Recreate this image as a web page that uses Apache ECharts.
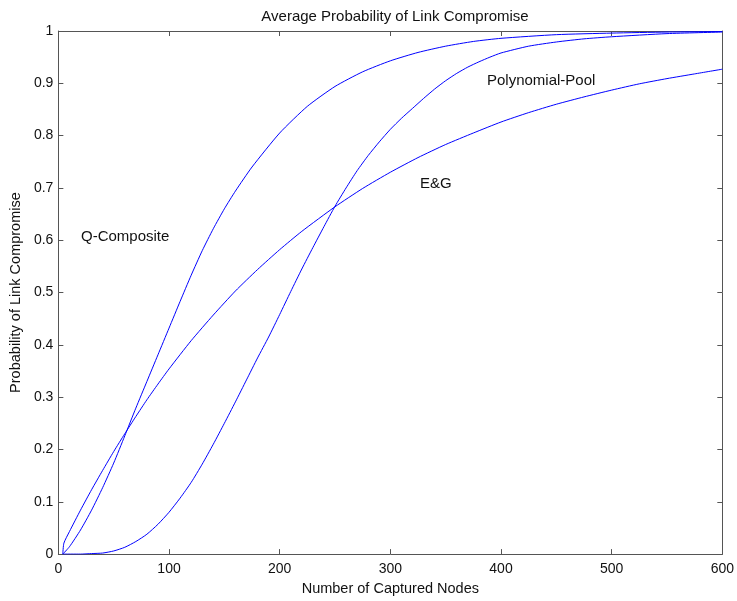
<!DOCTYPE html>
<html>
<head>
<meta charset="utf-8">
<script src="https://cdn.jsdelivr.net/npm/echarts@6/dist/echarts.min.js"></script>
<style>
html,body{margin:0;padding:0;background:#fff;}
#chart{width:737px;height:601px;}
</style>
</head>
<body>
<div id="chart"></div>
<script>
// Data
const egX = [4, 5, 10, 20, 30, 40, 50, 60, 70, 80, 90, 100, 120, 140, 160, 180, 200, 220, 250, 275, 300, 325, 350, 375, 400, 425, 450, 475, 500, 525, 550, 575, 600];
const egY = [0, 0.021, 0.043, 0.084, 0.123, 0.160, 0.196, 0.230, 0.263, 0.295, 0.325, 0.354, 0.408, 0.457, 0.503, 0.544, 0.582, 0.617, 0.664, 0.699, 0.730, 0.758, 0.783, 0.805, 0.826, 0.844, 0.860, 0.874, 0.887, 0.899, 0.909, 0.918, 0.927];

const qX = [4, 10, 20, 30, 40, 50, 60, 70, 80, 90, 100, 110, 120, 130, 140, 150, 160, 175, 200, 225, 250, 275, 300, 325, 350, 375, 400, 450, 500, 550, 600];
const qY = [0, 0.014, 0.046, 0.084, 0.127, 0.174, 0.226, 0.279, 0.330, 0.381, 0.432, 0.483, 0.533, 0.580, 0.622, 0.660, 0.694, 0.740, 0.805, 0.856, 0.894, 0.922, 0.943, 0.959, 0.971, 0.980, 0.986, 0.993, 0.996, 0.998, 0.999];

const ppX = [4, 20, 30, 40, 50, 60, 70, 80, 90, 100, 110, 120, 130, 140, 150, 160, 170, 180, 190, 200, 210, 220, 230, 240, 250, 260, 270, 280, 290, 300, 310, 320, 330, 340, 350, 360, 370, 380, 390, 400, 425, 450, 475, 500, 550, 600];
const ppY = [0, 0.0, 0.001, 0.002, 0.006, 0.013, 0.024, 0.038, 0.057, 0.080, 0.107, 0.137, 0.172, 0.210, 0.250, 0.291, 0.333, 0.375, 0.415, 0.458, 0.502, 0.545, 0.586, 0.626, 0.665, 0.700, 0.733, 0.762, 0.788, 0.812, 0.833, 0.852, 0.871, 0.889, 0.905, 0.919, 0.931, 0.941, 0.950, 0.958, 0.971, 0.979, 0.985, 0.989, 0.995, 0.998];

const xTicks = [0, 100, 200, 300, 400, 500, 600];
const yTicks = [0, 0.1, 0.2, 0.3, 0.4, 0.5, 0.6, 0.7, 0.8, 0.9, 1];

const titleText = 'Average Probability of Link Compromise';
const xName = 'Number of Captured Nodes';
const yName = 'Probability of Link Compromise';
const seriesNames = ['E&G', 'Q-Composite', 'Polynomial-Pool'];

function pairs(xs, ys) { return xs.map((x, i) => [x, ys[i]]); }

const FONT = 'Liberation Sans, Arial, sans-serif';
const axisColor = '#555';

const chart = echarts.init(document.getElementById('chart'), null, {renderer: 'canvas'});

const baseX = {
  type: 'value', min: xTicks[0], max: xTicks[xTicks.length - 1], interval: 100,
  axisLine: {onZero: false, lineStyle: {color: axisColor, width: 1}},
  axisTick: {inside: true, length: 5, lineStyle: {color: axisColor}},
  splitLine: {show: false}
};
const baseY = {
  type: 'value', min: yTicks[0], max: yTicks[yTicks.length - 1], interval: 0.1,
  axisLine: {onZero: false, lineStyle: {color: axisColor, width: 1}},
  axisTick: {inside: true, length: 5, lineStyle: {color: axisColor}},
  splitLine: {show: false}
};

function lineSeries(name, data) {
  return {
    name: name, type: 'line', data: data, showSymbol: false, symbol: 'none',
    smooth: 0.2,
    lineStyle: {color: '#0000ff', width: 1}, animation: false, z: 3
  };
}

chart.setOption({
  animation: false,
  backgroundColor: '#fff',
  title: {
    text: titleText, left: 390, top: 4, textAlign: 'center',
    textStyle: {fontFamily: FONT, fontSize: 15, fontWeight: 'normal', color: '#111'}
  },
  grid: {left: 55, right: 13, top: 31, bottom: 42},
  xAxis: [
    Object.assign({}, baseX, {
      position: 'bottom',
      name: xName, nameLocation: 'middle', nameGap: 25,
      nameTextStyle: {fontFamily: FONT, fontSize: 14.5, color: '#111', verticalAlign: 'top'},
      axisLabel: {fontFamily: FONT, fontSize: 14, color: '#111', margin: 8}
    }),
    Object.assign({}, baseX, {position: 'top', axisLabel: {show: false}})
  ],
  yAxis: [
    Object.assign({}, baseY, {
      position: 'left',
      name: yName, nameLocation: 'middle', nameGap: 23,
      nameTextStyle: {fontFamily: FONT, fontSize: 14.5, color: '#111'},
      axisLabel: {fontFamily: FONT, fontSize: 14, color: '#111', margin: 5,
        formatter: v => String(Math.round(v * 10) / 10)}
    }),
    Object.assign({}, baseY, {position: 'right', axisLabel: {show: false}})
  ],
  series: [
    lineSeries(seriesNames[0], pairs(egX, egY)),
    lineSeries(seriesNames[1], pairs(qX, qY)),
    lineSeries(seriesNames[2], pairs(ppX, ppY))
  ],
  graphic: [
    {type: 'text', left: 81, top: 229, style: {text: 'Q-Composite', font: '15px ' + FONT, fill: '#111'}},
    {type: 'text', left: 487, top: 73, style: {text: 'Polynomial-Pool', font: '15px ' + FONT, fill: '#111'}},
    {type: 'text', left: 420, top: 176, style: {text: 'E&G', font: '15px ' + FONT, fill: '#111'}}
  ]
});
</script>
</body>
</html>
